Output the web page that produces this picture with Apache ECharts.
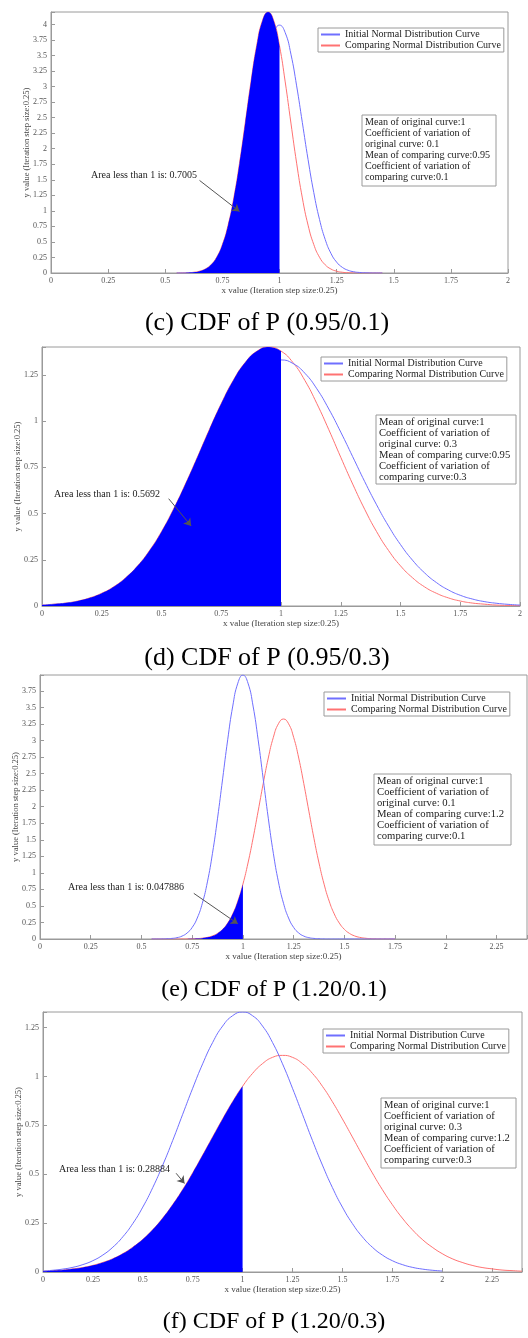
<!DOCTYPE html>
<html>
<head>
<meta charset="utf-8">
<script src="https://cdn.jsdelivr.net/npm/echarts@6/dist/echarts.min.js"></script>
<style>
  html, body { margin: 0; padding: 0; background: #fff; }
  #chart { width: 528px; height: 1338px; }
</style>
</head>
<body>
<div id="chart"></div>
<script>
// ---- values ----
const seriesNames = ['Initial Normal Distribution Curve', 'Comparing Normal Distribution Curve'];
const captions = ['(c) CDF of P (0.95/0.1)', '(d) CDF of P (0.95/0.3)', '(e) CDF of P (1.20/0.1)', '(f) CDF of P (1.20/0.3)'];
const areaNotes = ['Area less than 1 is: 0.7005', 'Area less than 1 is: 0.5692', 'Area less than 1 is: 0.047886', 'Area less than 1 is: 0.28884'];
const infoNotes = [
  'Mean of original curve:1\nCoefficient of variation of\noriginal curve: 0.1\nMean of comparing curve:0.95\nCoefficient of variation of\ncomparing curve:0.1',
  'Mean of original curve:1\nCoefficient of variation of\noriginal curve: 0.3\nMean of comparing curve:0.95\nCoefficient of variation of\ncomparing curve:0.3',
  'Mean of original curve:1\nCoefficient of variation of\noriginal curve: 0.1\nMean of comparing curve:1.2\nCoefficient of variation of\ncomparing curve:0.1',
  'Mean of original curve:1\nCoefficient of variation of\noriginal curve: 0.3\nMean of comparing curve:1.2\nCoefficient of variation of\ncomparing curve:0.3'
];
const xAxisName = 'x value (Iteration step size:0.25)';
const yAxisName = 'y value (Iteration step size:0.25)';
const cutX = 1; // area filled under the comparing curve for x < 1

// (c) 0.95 / 0.1
const xC = [0.55,0.575,0.6,0.625,0.65,0.675,0.7,0.725,0.75,0.775,0.8,0.825,0.85,0.875,0.9,0.925,0.95,0.975,1,
  1.025,1.05,1.075,1.1,1.125,1.15,1.175,1.2,1.225,1.25,1.275,1.3,1.325,1.35,1.375,1.4,1.425,1.45];
const origC = [0,0,0.001,0.004,0.009,0.020,0.044,0.091,0.175,0.317,0.540,0.863,1.295,1.826,2.420,3.011,3.521,3.867,3.989,
  3.867,3.521,3.011,2.420,1.826,1.295,0.863,0.540,0.317,0.175,0.091,0.044,0.020,0.009,0.004,0.001,0,0];
const compC = [0.001,0.002,0.005,0.012,0.029,0.064,0.132,0.254,0.458,0.770,1.208,1.767,2.413,3.075,3.656,4.057,4.199,4.057,3.656,
  3.075,2.413,1.767,1.208,0.770,0.458,0.254,0.132,0.064,0.029,0.012,0.005,0.002,0.001,0,0,0,0];
const arrowC = [[0.65, 1.49], [0.825, 0.99]];

// (d) 0.95 / 0.3
const xD = [0,0.05,0.1,0.15,0.2,0.25,0.3,0.35,0.4,0.45,0.5,0.55,0.6,0.65,0.7,0.75,0.8,0.85,0.9,0.95,1,
  1.05,1.1,1.15,1.2,1.25,1.3,1.35,1.4,1.45,1.5,1.55,1.6,1.65,1.7,1.75,1.8,1.85,1.9,1.95,2];
const origD = [0.005,0.009,0.015,0.024,0.038,0.058,0.087,0.127,0.180,0.248,0.332,0.432,0.547,0.673,0.807,0.940,1.065,1.174,1.258,1.311,1.330,
  1.311,1.258,1.174,1.065,0.940,0.807,0.673,0.547,0.432,0.332,0.248,0.180,0.127,0.087,0.058,0.038,0.024,0.015,0.009,0.005];
const compD = [0.005,0.010,0.016,0.027,0.044,0.069,0.104,0.153,0.217,0.300,0.402,0.523,0.659,0.804,0.953,1.094,1.219,1.316,1.378,1.400,1.378,
  1.316,1.219,1.094,0.953,0.804,0.659,0.523,0.402,0.300,0.217,0.153,0.104,0.069,0.044,0.027,0.016,0.010,0.005,0.003,0.002];
const arrowD = [[0.53, 0.58], [0.624, 0.433]];

// (e) 1.20 / 0.1
const xE = [0.55,0.575,0.6,0.625,0.65,0.675,0.7,0.725,0.75,0.775,0.8,0.825,0.85,0.875,0.9,0.925,0.95,0.975,1,
  1.025,1.05,1.075,1.1,1.125,1.15,1.175,1.2,1.225,1.25,1.275,1.3,1.325,1.35,1.375,1.4,1.425,1.45,
  1.475,1.5,1.525,1.55,1.575,1.6,1.625,1.65,1.675,1.7,1.725,1.75];
const origE = [0,0,0.001,0.004,0.009,0.020,0.044,0.091,0.175,0.317,0.540,0.863,1.295,1.826,2.420,3.011,3.521,3.867,3.989,
  3.867,3.521,3.011,2.420,1.826,1.295,0.863,0.540,0.317,0.175,0.091,0.044,0.020,0.009,0.004,0.001,0,0,
  0,0,0,0,0,0,0,0,0,0,0,0];
const compE = [0,0,0,0,0,0,0.001,0.001,0.003,0.006,0.013,0.025,0.047,0.085,0.146,0.241,0.380,0.573,0.829,
  1.148,1.522,1.932,2.349,2.735,3.048,3.253,3.325,3.253,3.048,2.735,2.349,1.932,1.522,1.148,0.829,0.573,0.380,
  0.241,0.146,0.085,0.047,0.025,0.013,0.006,0.003,0.001,0.001,0,0];
const arrowE = [[0.758, 0.69], [0.975, 0.23]];

// (f) 1.20 / 0.3
const xF = [0,0.05,0.1,0.15,0.2,0.25,0.3,0.35,0.4,0.45,0.5,0.55,0.6,0.65,0.7,0.75,0.8,0.85,0.9,0.95,1,
  1.05,1.1,1.15,1.2,1.25,1.3,1.35,1.4,1.45,1.5,1.55,1.6,1.65,1.7,1.75,1.8,1.85,1.9,1.95,2,
  2.05,2.1,2.15,2.2,2.25,2.3,2.35,2.4];
const origF = [0.005,0.009,0.015,0.024,0.038,0.058,0.087,0.127,0.180,0.248,0.332,0.432,0.547,0.673,0.807,0.940,1.065,1.174,1.258,1.311,1.330,
  1.311,1.258,1.174,1.065,0.940,0.807,0.673,0.547,0.432,0.332,0.248,0.180,0.127,0.087,0.058,0.038,0.024,0.015,0.009,0.005];
const compF = [0.004,0.007,0.010,0.016,0.023,0.034,0.049,0.068,0.094,0.127,0.167,0.217,0.276,0.345,0.422,0.507,0.598,0.691,0.783,0.871,0.950,
  1.016,1.066,1.098,1.108,1.098,1.066,1.016,0.950,0.871,0.783,0.691,0.598,0.507,0.422,0.345,0.276,0.217,0.167,0.127,0.094,
  0.068,0.049,0.034,0.023,0.016,0.010,0.007,0.004];
const arrowF = [[0.667, 0.505], [0.709, 0.453]];

// ---- layout ----
const FONT = 'Liberation Serif';
const BLUE = '#6f6fff', RED = '#ff7272', FILL = '#0000ff', AXIS = '#9a9a9a';

const panels = [
  { x: xC, orig: origC, comp: compC, arrow: arrowC, xMax: 2, yMax: 4.2,
    grid: { left: 51, top: 12, width: 457, height: 261 }, legend: [318, 28], box: [362, 115, 134, 71, 10.1], note: [91, 175], cap: [267, 323, 26] },
  { x: xD, orig: origD, comp: compD, arrow: arrowD, xMax: 2, yMax: 1.4,
    grid: { left: 42, top: 347, width: 478, height: 259 }, legend: [321, 357], box: [376, 415, 140, 69, 10.6], note: [54, 494], cap: [267, 658, 26] },
  { x: xE, orig: origE, comp: compE, arrow: arrowE, xMax: 2.4, yMax: 3.99,
    grid: { left: 40, top: 675, width: 487, height: 264 }, legend: [324, 692], box: [374, 774, 137, 71, 10.7], note: [68, 887], cap: [274, 990, 24] },
  { x: xF, orig: origF, comp: compF, arrow: arrowF, xMax: 2.4, yMax: 1.33,
    grid: { left: 43, top: 1012, width: 479, height: 260 }, legend: [323, 1029], box: [381, 1098, 135, 70, 10.6], note: [59, 1169], cap: [274, 1322, 24] }
];

const pairs = (xs, ys) => ys.map((y, i) => [xs[i], y]);
const quarterLabel = v => {
  const q = v / 0.25;
  return Math.abs(q - Math.round(q)) < 1e-6 ? String(+v.toFixed(2)) : '';
};

const grids = [], xAxes = [], yAxes = [], series = [], legends = [], graphics = [];

panels.forEach((p, i) => {
  grids.push(Object.assign({ show: true, borderColor: AXIS, borderWidth: 1, backgroundColor: '#fff',
    containLabel: false, outerBoundsMode: 'none' }, p.grid));

  const axisCommon = {
    gridIndex: i, type: 'value', min: 0, interval: 0.25,
    axisLine: { onZero: false, lineStyle: { color: AXIS, width: 1 } },
    axisTick: { inside: true, length: 4, lineStyle: { color: AXIS } },
    axisLabel: { formatter: quarterLabel, fontFamily: FONT, fontSize: 8, color: '#555', margin: 4 },
    splitLine: { show: false },
    nameLocation: 'middle', nameMoveOverlap: false,
    nameTextStyle: { fontFamily: FONT, fontSize: 9, color: '#444' }
  };
  xAxes.push(Object.assign({}, axisCommon, { max: p.xMax, name: xAxisName, nameGap: 13 }));
  yAxes.push(Object.assign({}, axisCommon, { max: p.yMax, name: yAxisName, nameGap: 20,
    nameTextStyle: { fontFamily: FONT, fontSize: 8.5, color: '#444' } }));

  series.push({
    type: 'line', name: seriesNames[1], xAxisIndex: i, yAxisIndex: i,
    data: pairs(p.x, p.comp), symbol: 'none', smooth: true, z: 2,
    lineStyle: { color: RED, width: 1 }, itemStyle: { color: RED }
  });
  series.push({
    type: 'line', name: seriesNames[0], xAxisIndex: i, yAxisIndex: i,
    data: pairs(p.x, p.orig), symbol: 'none', smooth: true, z: 3,
    lineStyle: { color: BLUE, width: 1 }, itemStyle: { color: BLUE }
  });
  series.push({
    type: 'line', name: 'area' + i, xAxisIndex: i, yAxisIndex: i,
    data: pairs(p.x, p.comp).filter(d => d[0] <= cutX), symbol: 'none', smooth: true, z: 4,
    lineStyle: { width: 0, opacity: 0 }, areaStyle: { color: FILL, opacity: 1 },
    markLine: {
      silent: true, symbol: ['none', 'arrow'], symbolSize: 7,
      label: { show: false },
      lineStyle: { color: '#555', width: 1, type: 'solid' },
      data: [[{ coord: p.arrow[0] }, { coord: p.arrow[1] }]]
    }
  });

  legends.push({
    data: [seriesNames[0], seriesNames[1]], orient: 'vertical',
    left: p.legend[0], top: p.legend[1], itemWidth: 19, itemHeight: 8, itemGap: 0,
    padding: [1, 3, 1, 2], borderColor: AXIS, borderWidth: 1, backgroundColor: '#fff',
    itemStyle: { opacity: 0 }, selectedMode: false,
    textStyle: { fontFamily: FONT, fontSize: 10, color: '#222', lineHeight: 11 }
  });

  graphics.push({
    type: 'rect', z: 100,
    shape: { x: p.box[0], y: p.box[1], width: p.box[2], height: p.box[3] },
    style: { fill: '#fff', stroke: AXIS, lineWidth: 1 }
  });
  graphics.push({
    type: 'text', z: 101, x: p.box[0] + 3, y: p.box[1] + 2,
    style: { text: infoNotes[i], fontFamily: FONT, fontSize: p.box[4], lineHeight: 11, fill: '#222', verticalAlign: 'top' }
  });
  graphics.push({
    type: 'text', z: 101, x: p.note[0], y: p.note[1],
    style: { text: areaNotes[i], fontFamily: FONT, fontSize: 10, fill: '#222', verticalAlign: 'middle' }
  });
  graphics.push({
    type: 'text', z: 101, x: p.cap[0], y: p.cap[1],
    style: { text: captions[i], fontFamily: FONT, fontSize: p.cap[2], fill: '#000', align: 'center', verticalAlign: 'middle' }
  });
});

const chart = echarts.init(document.getElementById('chart'));
chart.setOption({
  animation: false,
  backgroundColor: '#fff',
  grid: grids,
  xAxis: xAxes,
  yAxis: yAxes,
  legend: legends,
  series: series,
  graphic: graphics
});
</script>
</body>
</html>
